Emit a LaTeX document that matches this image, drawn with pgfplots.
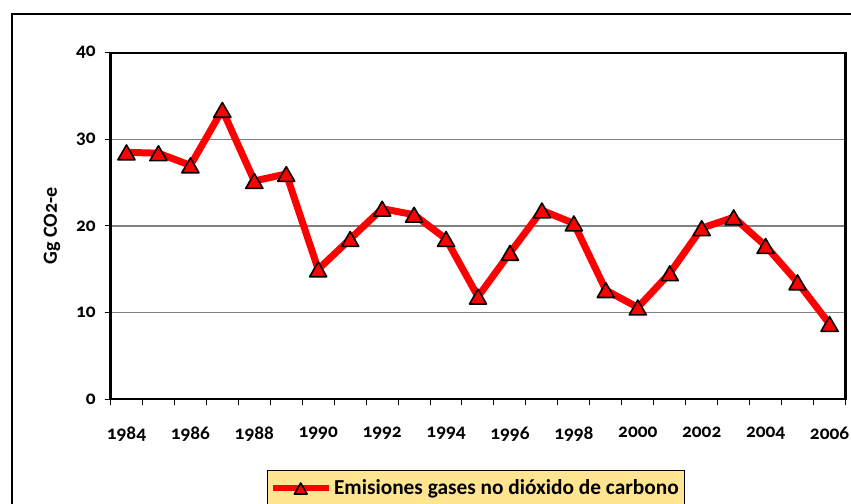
\documentclass[border=0pt]{standalone}
\usepackage{fontspec}
\setmainfont{Carlito}[Numbers=OldStyle]
\usepackage{pgfplots}
\pgfplotsset{compat=1.18}
\definecolor{gridgray}{HTML}{808080}
\definecolor{legfill}{HTML}{FFE58F}

\begin{document}
\begin{tikzpicture}[x=0.75pt,y=0.75pt]
  \useasboundingbox (0,0) rectangle (851,504);
  \draw[line width=1.9pt] (12,490) rectangle (900,-40);
  \begin{axis}[at={(82.875pt,78.525pt)}, anchor=south west, scale only axis,
      width=551.25pt, height=259.95pt,
      xmin=1983.5, xmax=2006.5, ymin=0, ymax=40,
      xtick={1983.5,1984.5,...,2006.5}, xticklabels={},
      extra x ticks={1984,1986,...,2006},
      extra x tick style={major tick length=0pt, grid=none},
      ytick={0,10,20,30,40},
      ymajorgrids, grid style={gridgray, line width=0.8pt},
      tick align=outside, tick pos=left, major tick length=4.5pt,
      tick style={black, line width=0.75pt},
      axis line style={line width=1.6pt},
      /pgf/number format/1000 sep={},
      /pgf/number format/assume math mode=true,
      tick label style={font=\fontsize{14.5}{16}\selectfont\bfseries},
      xticklabel style={yshift=-17pt},
      yticklabel style={xshift=-3pt},
      ylabel={Gg CO2-e},
      every axis y label/.style={at={(axis description cs:-0.0796,0.5)}, rotate=90, anchor=center,
        font=\fontsize{15}{17}\selectfont\bfseries},
      legend style={at={(axis description cs:0.2129,-0.204)}, anchor=north west,
        draw=black, line width=0.6pt, fill=legfill,
        font=\fontsize{16}{18}\selectfont\bfseries,
        inner xsep=2pt, inner ysep=5pt, nodes={text depth=14pt}},
      legend image code/.code={
        \draw[mark repeat=2, mark phase=2, #1] plot coordinates {(0pt,6.5pt) (21pt,6.5pt) (42pt,6.5pt)};
      },
      legend image post style={line width=4pt, mark size=5.5pt},
    ]
    \addplot[red, line width=5.25pt, line join=round, mark=triangle*, mark size=7.4pt,
      mark options={fill=red, draw=black, line width=1.2pt, solid, yshift=-1.85pt}]
      coordinates {
        (1984,28.5) (1985,28.4) (1986,27.0) (1987,33.4) (1988,25.2) (1989,26.0)
        (1990,15.0) (1991,18.5) (1992,22.0) (1993,21.3) (1994,18.5) (1995,11.85)
        (1996,16.9) (1997,21.8) (1998,20.3) (1999,12.6) (2000,10.6) (2001,14.55)
        (2002,19.75) (2003,21.0) (2004,17.7) (2005,13.5) (2006,8.7)
      };
    \addlegendentry{Emisiones gases no dióxido de carbono}
  \end{axis}
\end{tikzpicture}
\end{document}
